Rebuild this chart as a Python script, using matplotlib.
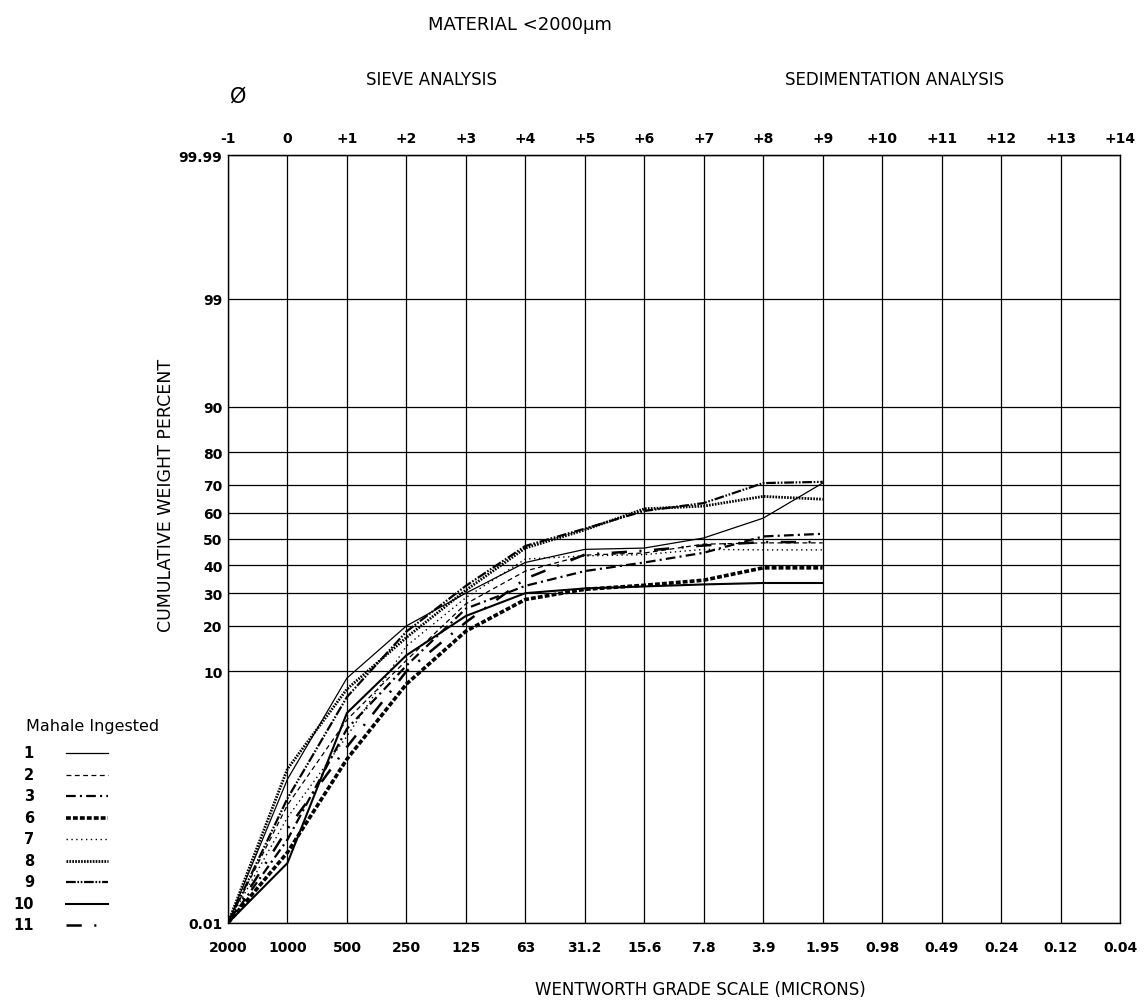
import math
import numpy as np
import matplotlib
matplotlib.use("Agg")
import matplotlib.pyplot as plt
from matplotlib.lines import Line2D

plt.rcParams['font.family'] = ['DejaVu Sans']
plt.rcParams['lines.scale_dashes'] = False

# phi positions and axis labels
phi = [-1, 0, 1, 2, 3, 4, 5, 6, 7, 8, 9]
phi_ticks = list(range(-1, 15))
top_labels = ["-1", "0"] + ["+%d" % i for i in range(1, 15)]
micron_labels = ["2000", "1000", "500", "250", "125", "63", "31.2", "15.6",
                 "7.8", "3.9", "1.95", "0.98", "0.49", "0.24", "0.12", "0.04"]
pct_ticks = [0.01, 10, 20, 30, 40, 50, 60, 70, 80, 90, 99, 99.99]
pct_labels = ["0.01", "10", "20", "30", "40", "50", "60", "70", "80", "90", "99", "99.99"]

# cumulative weight percent per sample
s1 = [0.01, 1.0, 8.9, 20, 30, 41, 46, 46.5, 50.4, 58, 70.6]
s2 = [0.01, 0.5, 4.0, 12, 26.5, 37.8, 43.8, 44.6, 48, 48.5, 48.5]
s3 = [0.01, 0.18, 3.3, 11, 25, 32.5, 37.8, 41, 44.7, 51, 52]
s6 = [0.01, 0.12, 1.65, 8, 18.6, 27.9, 31.3, 32.7, 34.5, 39, 39]
s7 = [0.01, 0.35, 2.8, 15, 28.5, 42.3, 43.5, 44, 46, 45.8, 45.8]
s8 = [0.01, 1.3, 7.3, 17, 31, 46.5, 53.5, 61.5, 62.5, 66, 65]
s9 = [0.01, 0.6, 6.3, 18.5, 32.5, 47.3, 54, 60.7, 63.6, 70.6, 71]
s10 = [0.01, 0.085, 4.6, 13, 22.8, 30, 31.6, 32.3, 33, 33.5, 33.5]
s11 = [0.01, 0.25, 2.2, 10, 21, 35, 44, 45.5, 47.5, 48.8, 48.8]

series = [
    ("1", s1, '-', 0.9),
    ("2", s2, (0, (3.5, 2.5)), 0.9),
    ("3", s3, (0, (7, 3, 1.5, 3)), 1.6),
    ("6", s6, (0, (3.5, 1.5)), 2.6),
    ("7", s7, (0, (1.0, 2.5)), 1.0),
    ("8", s8, (0, (1.2, 0.9)), 2.0),
    ("9", s9, (0, (7, 1.2, 1.2, 1.2, 1.2, 1.2)), 1.6),
    ("10", s10, '-', 1.5),
    ("11", s11, (0, (11, 9, 1.5, 9)), 1.8),
]

# normal probability scale
_z = np.linspace(-6, 6, 24001)
_c = 0.5 * (1 + np.array([math.erf(v / math.sqrt(2)) for v in _z]))


def forward(p):
    p = np.clip(np.asarray(p, dtype=float) / 100.0, 1e-9, 1 - 1e-9)
    return np.interp(p, _c, _z)


def inverse(z):
    return 100.0 * np.interp(np.asarray(z, dtype=float), _z, _c)


W, H = 1145, 1004
fig = plt.figure(figsize=(W / 100, H / 100), dpi=100)
ax = fig.add_axes([228 / W, 1 - 924 / H, 892 / W, 768 / H])
ax.set_yscale('function', functions=(forward, inverse))
ax.set_ylim(0.01, 99.99)
ax.set_xlim(-1, 14)

for name, vals, ls, lw in series:
    ax.plot(phi, vals, color='black', linestyle=ls, linewidth=lw)

ax.set_yticks(pct_ticks)
ax.set_yticklabels(pct_labels, fontsize=10, fontweight='bold')
ax.yaxis.set_minor_locator(matplotlib.ticker.NullLocator())
ax.set_xticks(phi_ticks)
ax.set_xticklabels(micron_labels, fontsize=10, fontweight='bold')
ax.tick_params(axis='both', length=0)
ax.tick_params(axis='x', pad=12)
ax.tick_params(axis='y', pad=4)
ax.grid(True, color='black', linewidth=0.9)
for sp in ax.spines.values():
    sp.set_linewidth(1.0)

top = ax.secondary_xaxis('top')
top.set_xticks(phi_ticks)
top.set_xticklabels(top_labels, fontsize=10, fontweight='bold')
top.tick_params(length=0, pad=7)


def fx(px):
    return px / W


def fy(py):
    return 1 - py / H


fig.text(fx(520), fy(25), "MATERIAL <2000\u03bcm", fontsize=13, ha='center', va='center')
fig.text(fx(432), fy(80), "SIEVE ANALYSIS", fontsize=12, ha='center', va='center')
fig.text(fx(895), fy(80), "SEDIMENTATION ANALYSIS", fontsize=12, ha='center', va='center')
fig.text(fx(238), fy(97), "\u00d8", fontsize=15, ha='center', va='center')
fig.text(fx(166), fy(495), "CUMULATIVE WEIGHT PERCENT", fontsize=12.5, rotation=90,
         ha='center', va='center')
fig.text(fx(700), fy(990), "WENTWORTH GRADE SCALE (MICRONS)", fontsize=12,
         ha='center', va='center')

# legend
fig.text(fx(26), fy(726), "Mahale Ingested", fontsize=11.5, ha='left', va='center')
for i, (name, vals, ls, lw) in enumerate(series):
    yy = 754 + i * 21.5
    fig.text(fx(34), fy(yy), name, fontsize=10.5, fontweight='bold', ha='right', va='center')
    fig.add_artist(Line2D([fx(66), fx(108)], [fy(yy), fy(yy)], color='black',
                          linestyle=ls, linewidth=lw, transform=fig.transFigure))

fig.savefig("out.png", dpi=100)
